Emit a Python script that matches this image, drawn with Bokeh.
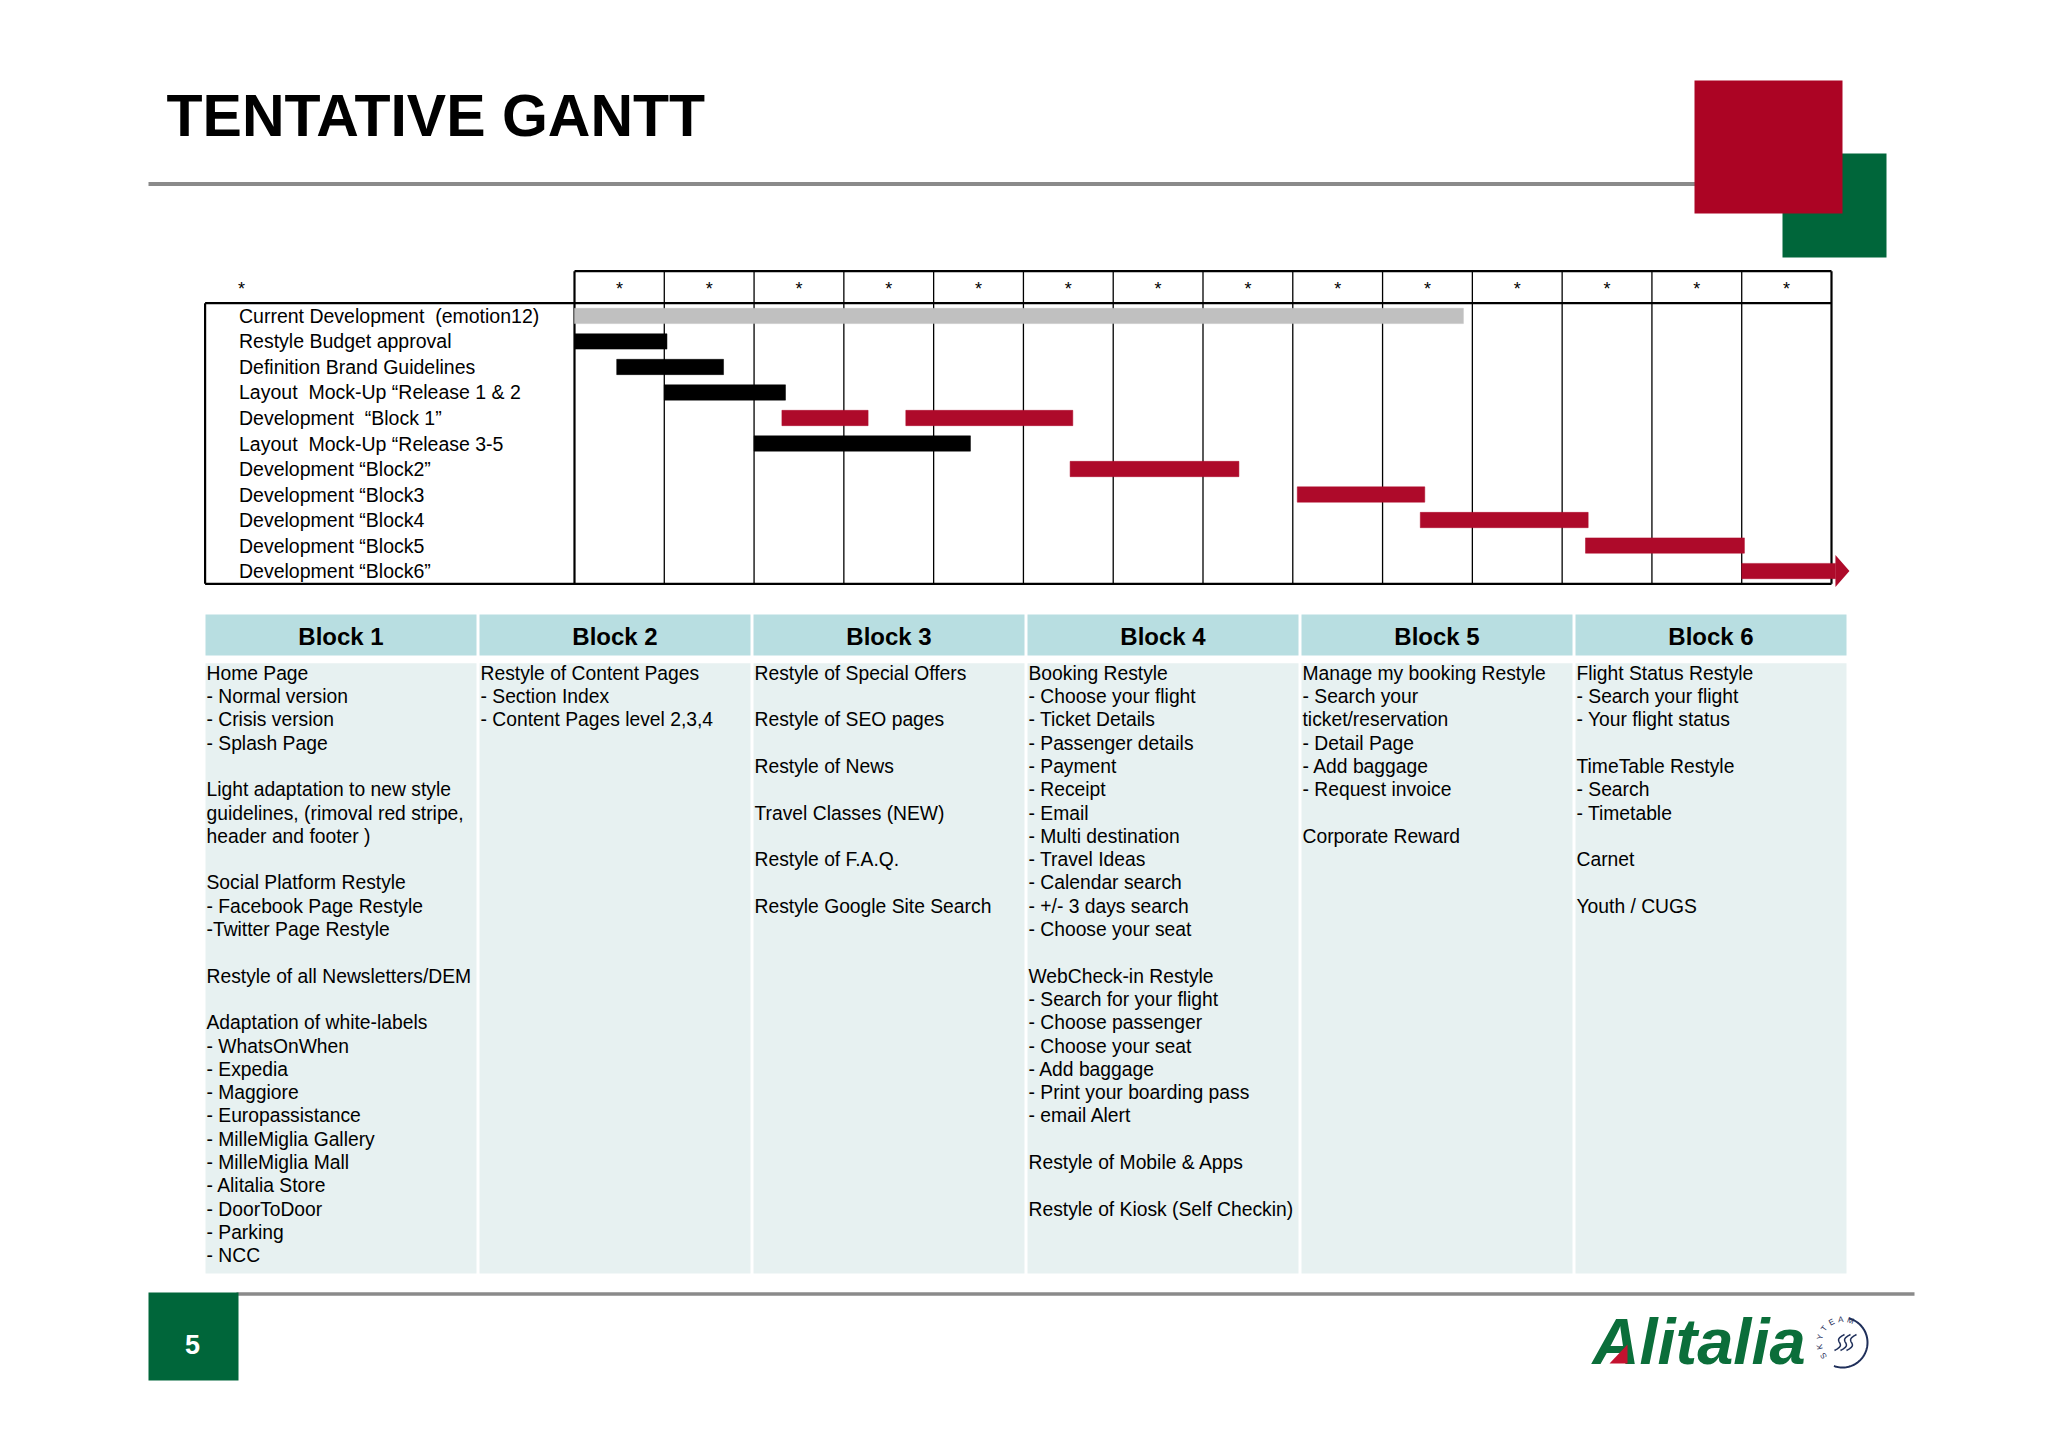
import numpy as np
from bokeh.plotting import figure
from bokeh.models import Range1d, ColumnDataSource
from bokeh.core.properties import value
from bokeh.embed import file_html
from bokeh.resources import INLINE

FONT = "Liberation Sans"
NB = "\u00a0"

# ------------------------------------------------------------------ data
title_text = "TENTATIVE GANTT"
corner_label = "*"
period_labels = ["*"] * 14

tasks = [
    "Current Development " + NB + "(emotion12)",
    "Restyle Budget approval",
    "Definition Brand Guidelines",
    "Layout " + NB + "Mock-Up \u201cRelease 1 & 2",
    "Development " + NB + "\u201cBlock 1\u201d",
    "Layout " + NB + "Mock-Up \u201cRelease 3-5",
    "Development \u201cBlock2\u201d",
    "Development \u201cBlock3",
    "Development \u201cBlock4",
    "Development \u201cBlock5",
    "Development \u201cBlock6\u201d",
]

# bars, in periods (columns of the gantt)
bar_task = [0, 1, 2, 3, 4, 4, 5, 6, 7, 8, 9, 10]
bar_start = [0.0, 0.0, 0.47, 1.0, 2.31, 3.69, 2.0, 5.52, 8.05, 9.42, 11.26, 13.0]
bar_end = [9.9, 1.03, 1.66, 2.35, 3.27, 5.55, 4.41, 7.4, 9.47, 11.29, 13.03, 14.2]
bar_kind = ["current", "design", "design", "design", "dev", "dev", "design",
            "dev", "dev", "dev", "dev", "dev"]
bar_arrow = [False] * 11 + [True]

block_names = ["Block 1", "Block 2", "Block 3", "Block 4", "Block 5", "Block 6"]
block_items = [
    ["Home Page", "- Normal version", "- Crisis version", "- Splash Page", "",
     "Light adaptation to new style", "guidelines, (rimoval red stripe,", "header and footer )", "",
     "Social Platform Restyle", "- Facebook Page Restyle", "-Twitter Page Restyle", "",
     "Restyle of all Newsletters/DEM", "",
     "Adaptation of white-labels", "- WhatsOnWhen", "- Expedia", "- Maggiore", "- Europassistance",
     "- MilleMiglia Gallery", "- MilleMiglia Mall", "- Alitalia Store", "- DoorToDoor", "- Parking", "- NCC"],
    ["Restyle of Content Pages", "- Section Index", "- Content Pages level 2,3,4"],
    ["Restyle of Special Offers", "", "Restyle of SEO pages", "", "Restyle of News", "",
     "Travel Classes (NEW)", "", "Restyle of F.A.Q.", "", "Restyle Google Site Search"],
    ["Booking Restyle", "- Choose your flight", "- Ticket Details", "- Passenger details", "- Payment",
     "- Receipt", "- Email", "- Multi destination", "- Travel Ideas", "- Calendar search",
     "- +/- 3 days search", "- Choose your seat", "",
     "WebCheck-in Restyle", "- Search for your flight", "- Choose passenger", "- Choose your seat",
     "- Add baggage", "- Print your boarding pass", "- email Alert", "",
     "Restyle of Mobile & Apps", "", "Restyle of Kiosk (Self Checkin)"],
    ["Manage my booking Restyle", "- Search your", "ticket/reservation", "- Detail Page",
     "- Add baggage", "- Request invoice", "", "Corporate Reward"],
    ["Flight Status Restyle", "- Search your flight", "- Your flight status", "",
     "TimeTable Restyle", "- Search", "- Timetable", "", "Carnet", "", "Youth / CUGS"],
]
page_number = "5"
logo_text = "Alitalia"
skyteam_text = "SKYTEAM"

# ------------------------------------------------------------------ style / layout
W, H = 2030, 1420
X_LO, X_HI = 0, W
Y_TOP, Y_BOT = 0, H

RED = "#AC0424"
GREEN = "#00663A"
GRAY_LINE = "#8A8A8A"
KIND_COLOR = {"current": "#C0C0C0", "design": "#000000", "dev": "#AE0A2A"}

G_X0, G_X1 = 574.0, 1831.0          # gantt period area
LBL_X0 = 204.6                      # left edge of label box
HDR_TOP, BODY_TOP, BODY_BOT = 270.7, 302.7, 583.3
N_PER = len(period_labels)
COLW = (G_X1 - G_X0) / N_PER
ROWH = (BODY_BOT - BODY_TOP) / len(tasks)

def px_to_period(px):
    return (px - G_X0) / COLW

def px_to_row(py):
    return (py - BODY_TOP) / ROWH - 0.5

p = figure(width=W, height=H, output_backend="svg", toolbar_location=None,
           x_range=Range1d(X_LO, X_HI), y_range=Range1d(Y_BOT, Y_TOP),
           min_border=0, x_axis_location=None, y_axis_location=None,
           background_fill_color="white", border_fill_color="white",
           outline_line_color=None, tools="")
p.grid.visible = False
p.extra_x_ranges = {"period": Range1d(px_to_period(X_LO), px_to_period(X_HI))}
p.extra_y_ranges = {"rows": Range1d(px_to_row(Y_BOT), px_to_row(Y_TOP))}

# ------------------------------------------------------------------ title area
p.text(x=[166], y=[115], text=[title_text], text_font=value(FONT), text_font_style="bold",
       text_font_size="59px", text_color="black", text_baseline="middle", text_align="left")
p.segment(x0=[148], y0=[183.5], x1=[1700], y1=[183.5], line_color=GRAY_LINE, line_width=4)
p.quad(left=[1782], right=[1886], top=[153], bottom=[257], fill_color=GREEN, line_color=None)
p.quad(left=[1694], right=[1842], top=[80], bottom=[213], fill_color=RED, line_color=None)

# ------------------------------------------------------------------ gantt grid
per_edges = np.arange(N_PER + 1)
inner = per_edges[1:-1]
p.segment(x0=inner, x1=inner, y0=[HDR_TOP] * len(inner), y1=[BODY_BOT] * len(inner),
          x_range_name="period", line_color="black", line_width=1.3)
p.segment(x0=[0, N_PER], x1=[0, N_PER], y0=[HDR_TOP] * 2, y1=[BODY_BOT] * 2,
          x_range_name="period", line_color="black", line_width=2.2)
p.segment(x0=[G_X0, LBL_X0, LBL_X0], x1=[G_X1, G_X1, G_X1],
          y0=[HDR_TOP, BODY_TOP, BODY_BOT], y1=[HDR_TOP, BODY_TOP, BODY_BOT],
          line_color="black", line_width=2.2)
p.segment(x0=[LBL_X0], x1=[LBL_X0], y0=[BODY_TOP], y1=[BODY_BOT], line_color="black", line_width=2.2)

# header stars
p.text(x=per_edges[:-1] + 0.5, y=[(HDR_TOP + BODY_TOP) / 2 + 2] * N_PER, text=period_labels,
       x_range_name="period", text_font=value(FONT), text_font_size="18px",
       text_align="center", text_baseline="middle", text_color="black")
p.text(x=[241], y=[(HDR_TOP + BODY_TOP) / 2 + 2], text=[corner_label], text_font=value(FONT),
       text_font_size="18px", text_align="center", text_baseline="middle", text_color="black")

# task labels
p.text(x=[238.5] * len(tasks), y=np.arange(len(tasks)), text=tasks, y_range_name="rows",
       text_font=value(FONT), text_font_size="19.5px", text_align="left", text_baseline="middle",
       text_color="black")

# bars
HALF = 0.3
HEAD_LEN = 14 / COLW
HEAD_HALF = 0.63
bt = np.array(bar_task, dtype=float)
bs = np.array(bar_start)
be = np.array(bar_end)
ba = np.array(bar_arrow)
shaft_end = np.where(ba, be - HEAD_LEN, be)
src = ColumnDataSource(dict(left=bs, right=shaft_end, top=bt - HALF, bottom=bt + HALF,
                            color=[KIND_COLOR[k] for k in bar_kind]))
p.quad(left="left", right="right", top="top", bottom="bottom", fill_color="color",
       line_color="color", line_width=0.5, source=src, x_range_name="period", y_range_name="rows")
for i in np.where(ba)[0]:
    p.patch(x=[shaft_end[i], be[i], shaft_end[i]], y=[bt[i] - HEAD_HALF, bt[i], bt[i] + HEAD_HALF],
            fill_color=KIND_COLOR[bar_kind[i]], line_color=None,
            x_range_name="period", y_range_name="rows")

# ------------------------------------------------------------------ block table
T_X0, T_COLW, T_GAP = 205.0, 271.0, 3.0
T_HDR_TOP, T_HDR_BOT = 614.0, 655.0
T_BODY_TOP, T_BODY_BOT = 662.7, 1273.0
LINE_Y0, LINE_H = 672.7, 23.3

lefts = T_X0 + np.arange(len(block_names)) * (T_COLW + T_GAP)
p.quad(left=lefts, right=lefts + T_COLW, top=[T_HDR_TOP] * 6, bottom=[T_HDR_BOT] * 6,
       fill_color="#B8DEE1", line_color=None)
p.quad(left=lefts, right=lefts + T_COLW, top=[T_BODY_TOP] * 6, bottom=[T_BODY_BOT] * 6,
       fill_color="#E7F1F1", line_color=None)
p.text(x=lefts + T_COLW / 2, y=[(T_HDR_TOP + T_HDR_BOT) / 2 + 1] * 6, text=block_names,
       text_font=value(FONT), text_font_style="bold", text_font_size="24px",
       text_align="center", text_baseline="middle", text_color="black")

xs, ys, ts = [], [], []
for c, items in enumerate(block_items):
    for j, t in enumerate(items):
        if t:
            xs.append(lefts[c] + 1)
            ys.append(LINE_Y0 + j * LINE_H)
            ts.append(t)
p.text(x=xs, y=ys, text=ts, text_font=value(FONT), text_font_size="19.3px",
       text_align="left", text_baseline="middle", text_color="black")

# ------------------------------------------------------------------ footer
p.segment(x0=[236], y0=[1293.5], x1=[1914], y1=[1293.5], line_color=GRAY_LINE, line_width=3.5)
p.quad(left=[148], right=[238], top=[1292], bottom=[1380], fill_color=GREEN, line_color=None)
p.text(x=[192], y=[1344], text=[page_number], text_font=value(FONT), text_font_style="bold",
       text_font_size="27px", text_align="center", text_baseline="middle", text_color="white")

# logo
LOGO_BASE = 1363
p.text(x=[1592], y=[LOGO_BASE - 22], text=[logo_text], text_font=value(FONT),
       text_font_style="bold italic", text_font_size="65px", text_align="left",
       text_baseline="middle", text_color="#0B6E3A")
p.patch(x=[1609, 1627, 1627], y=[LOGO_BASE, LOGO_BASE, LOGO_BASE - 19],
        fill_color="#C4122F", line_color=None)

cx, cy, r = 1842.0, 1342.0, 25.0
th = np.linspace(np.radians(-110), np.radians(75), 60)
p.line(x=cx + r * np.cos(th), y=cy - r * np.sin(th), line_color="#1F2F5A", line_width=2)
ang = np.radians(np.linspace(215, 70, len(skyteam_text)))
p.text(x=cx + (r - 2) * np.cos(ang), y=cy - (r - 2) * np.sin(ang), text=list(skyteam_text),
       angle=ang - np.pi / 2, text_font=value(FONT), text_font_size="8px", text_align="center",
       text_baseline="middle", text_color="#1F2F5A")
for k in range(3):
    ox = cx - 8 + k * 6
    tt = np.linspace(0, 1, 20)
    p.line(x=ox + 10 * tt + 3 * np.sin(tt * 2 * np.pi), y=cy + 8 - 16 * tt,
           line_color="#1F2F5A", line_width=1.5)

open("out.html", "w").write(file_html(p, INLINE))
